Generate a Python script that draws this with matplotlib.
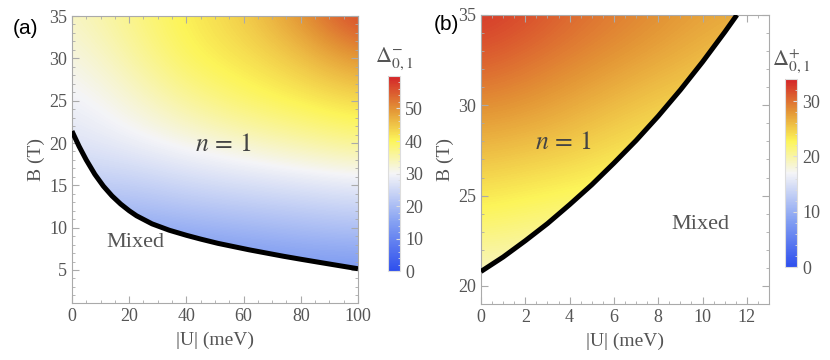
import numpy as np
import matplotlib
matplotlib.use('Agg')
from matplotlib import pyplot as plt
from matplotlib.colors import LinearSegmentedColormap
from matplotlib.patches import Polygon
from matplotlib.ticker import MultipleLocator, AutoMinorLocator

plt.rcParams['font.family'] = ['Liberation Serif', 'DejaVu Serif']
plt.rcParams['mathtext.fontset'] = 'stix'

# panel (a): Delta^-_{0,1} read on a coarse grid
u_a = [0, 20, 40, 60, 80, 100]
b_a = [5, 10, 15, 20, 25, 30, 35]
d_a = [
    [10, 10, 11, 12, 13, 13],
    [17, 17, 18, 19, 20, 21],
    [23, 23, 25, 26, 27, 28],
    [27, 29, 31, 33, 35, 37],
    [29, 32, 36, 39, 41, 43],
    [31, 35, 40, 42, 45, 50],
    [33, 37, 41, 44, 50, 58],
]
# phase boundary (a)
bd_u_a = [0, 2.5, 5, 8, 11, 14, 17, 20, 22.6, 28, 34, 40, 45, 51, 56, 62, 68, 74, 80, 86, 91, 96, 100]
bd_b_a = [21.4, 19.6, 18.0, 16.3, 14.9, 13.75, 12.8, 12.0, 11.4, 10.45, 9.7, 9.1, 8.65, 8.15,
          7.8, 7.38, 7.0, 6.62, 6.27, 5.93, 5.65, 5.37, 5.15]

# panel (b): Delta^+_{0,1}
u_b = [0, 2, 4, 6, 8, 10, 12]
b_b = [20, 22.5, 25, 27.5, 30, 32.5, 35]
d_b = [
    [18, 18, 17.5, 17.5, 17, 17, 17],
    [21, 20.5, 20, 20, 19.5, 19, 19],
    [23.5, 23, 22.5, 22, 21.5, 21, 21],
    [26, 25.5, 25, 24, 23.5, 23, 22.5],
    [28.5, 28, 27, 26, 25, 24.5, 24],
    [31, 30, 29, 28, 27, 26, 25],
    [33, 32, 30.5, 29.5, 28.5, 27.5, 27],
]
bd_u_b = [0, 1, 2, 3, 4, 5, 6, 7, 8, 9, 10, 11, 11.55]
bd_b_b = [20.8, 21.6, 22.5, 23.45, 24.5, 25.6, 26.8, 28.05, 29.4, 30.85, 32.4, 34.05, 35.0]

cmap = LinearSegmentedColormap.from_list('temp', [
    (0.0, (0.18, 0.31, 0.93)),
    (0.25, (0.52, 0.63, 0.95)),
    (0.5, (0.96, 0.96, 0.97)),
    (0.67, (0.99, 0.96, 0.35)),
    (0.83, (0.89, 0.58, 0.21)),
    (1.0, (0.83, 0.14, 0.16)),
])

grey = '#555555'
frame = '#aaaaaa'

fig = plt.figure(figsize=(8.3, 3.6), dpi=100)
ax1 = fig.add_axes([0.0867, 0.1583, 0.3446, 0.7972])
cax1 = fig.add_axes([0.4675, 0.2472, 0.0145, 0.5417])
ax2 = fig.add_axes([0.5795, 0.1556, 0.347, 0.8028])
cax2 = fig.add_axes([0.9458, 0.2583, 0.0145, 0.5222])


def panel(ax, cax, u, b, d, bu, bb, vmax, poly, xlim, ylim, cbticks, cblabel):
    du = u[1] - u[0]
    db = b[1] - b[0]
    im = ax.imshow(np.array(d), origin='lower', aspect='auto', cmap=cmap,
                   vmin=0, vmax=vmax, interpolation='bicubic',
                   extent=(u[0] - du / 2, u[-1] + du / 2, b[0] - db / 2, b[-1] + db / 2))
    clip = Polygon(poly, closed=True, transform=ax.transData, facecolor='none', edgecolor='none')
    ax.add_patch(clip)
    im.set_clip_path(clip)
    ax.plot(bu, bb, color='black', lw=3.6, solid_capstyle='butt', zorder=3)
    ax.set_xlim(*xlim)
    ax.set_ylim(*ylim)
    ax.set_xlabel('|U| (meV)', color=grey, fontsize=14, labelpad=5)
    ax.set_ylabel('B (T)', color=grey, fontsize=14, labelpad=3)
    ax.tick_params(which='both', direction='in', top=True, right=True, colors=frame,
                   labelcolor=grey, labelsize=13)
    ax.tick_params(which='major', length=5)
    ax.tick_params(which='minor', length=2.5)
    for s in ax.spines.values():
        s.set_color(frame)
    cb = fig.colorbar(im, cax=cax, ticks=cbticks)
    cb.outline.set_edgecolor('#dddddd')
    cax.tick_params(which='both', direction='in', colors='#dddddd', labelcolor=grey,
                    labelsize=13, length=3)
    cax.yaxis.set_minor_locator(AutoMinorLocator(5))
    cax.tick_params(which='minor', length=1.5)
    cax.set_title(cblabel, color=grey, fontsize=16, pad=10)
    return im


poly_a = list(zip(bd_u_a, bd_b_a)) + [(100, 35), (0, 35)]
panel(ax1, cax1, u_a, b_a, d_a, bd_u_a, bd_b_a, 60, poly_a, (0, 100), (1.1, 35),
      [0, 10, 20, 30, 40, 50], r'$\Delta^{-}_{0,1}$')
ax1.xaxis.set_major_locator(MultipleLocator(20))
ax1.xaxis.set_minor_locator(MultipleLocator(5))
ax1.yaxis.set_major_locator(MultipleLocator(5))
ax1.yaxis.set_minor_locator(MultipleLocator(1))
ax1.text(53, 19.8, r'$n\,=\,1$', fontsize=18.5, color='#444444', ha='center', va='center')
ax1.text(22, 8.3, 'Mixed', fontsize=16, color='#555555', ha='center', va='center')

poly_b = list(zip(bd_u_b, bd_b_b)) + [(0, 35)]
panel(ax2, cax2, u_b, b_b, d_b, bd_u_b, bd_b_b, 34, poly_b, (0, 13), (19, 35),
      [0, 10, 20, 30], r'$\Delta^{+}_{0,1}$')
ax2.xaxis.set_major_locator(MultipleLocator(2))
ax2.xaxis.set_minor_locator(MultipleLocator(0.5))
ax2.yaxis.set_major_locator(MultipleLocator(5))
ax2.yaxis.set_minor_locator(MultipleLocator(1))
ax2.text(3.7, 27.9, r'$n\,=\,1$', fontsize=18.5, color='#444444', ha='center', va='center')
ax2.text(9.9, 23.4, 'Mixed', fontsize=16, color='#555555', ha='center', va='center')

fig.text(13 / 830, 1 - 29 / 360, '(a)', fontsize=15, family=['Liberation Sans', 'DejaVu Sans'],
         ha='left', va='center')
fig.text(434 / 830, 1 - 24 / 360, '(b)', fontsize=15, family=['Liberation Sans', 'DejaVu Sans'],
         ha='left', va='center')

fig.savefig('out.png', dpi=100)
